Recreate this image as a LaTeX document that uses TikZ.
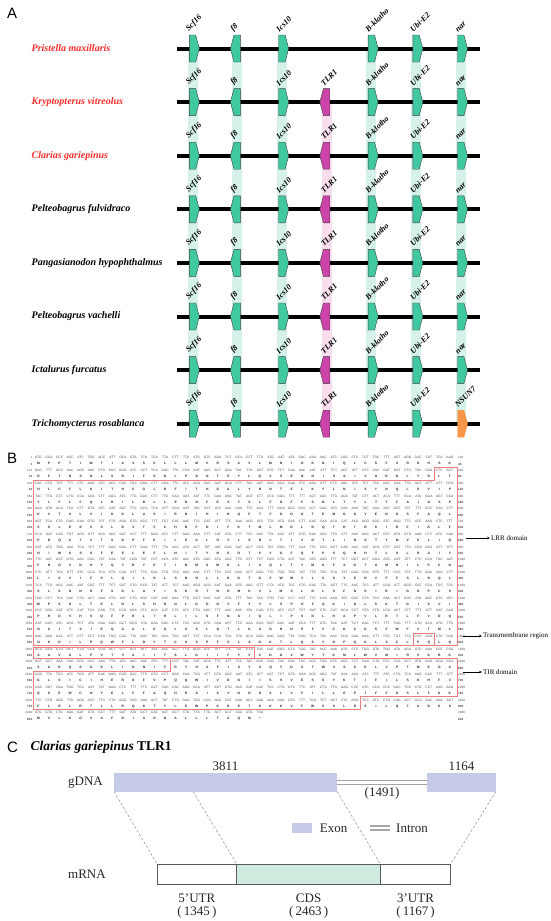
\documentclass[tikz,border=0pt]{standalone}
\usepackage{fontspec}
\setmainfont{Liberation Serif}
\setsansfont{Liberation Sans}
\usetikzlibrary{shapes.symbols, arrows.meta, positioning}

\definecolor{genegreen}{RGB}{64,201,160}
\definecolor{genepink}{RGB}{204,68,170}
\definecolor{geneorange}{RGB}{247,150,72}
\definecolor{shadegreen}{RGB}{214,240,234}
\definecolor{shadepink}{RGB}{250,221,237}
\definecolor{sprred}{RGB}{250,45,45}
\definecolor{boxred}{RGB}{238,125,125}
\definecolor{exonblue}{RGB}{197,202,233}
\definecolor{cdsgreen}{RGB}{205,236,222}
\definecolor{introngray}{RGB}{165,165,165}

% one codon (or residue) per fixed cell
\newcommand{\cdn}[1]{\makebox[10.55pt][c]{#1}}
\def\seqloop#1 #2\relax{\cdn{#1}\ifx\relax#2\relax\else\seqloop#2\relax\fi}
\newcommand{\seqtext}[1]{\seqloop#1 \relax}

\tikzset{
  panelletter/.style={font=\sffamily\fontsize{15}{15}\selectfont, anchor=west, inner sep=0pt},
  species/.style={font=\fontsize{10}{12}\selectfont\bfseries\itshape, anchor=west, inner sep=0pt},
  track/.style={line width=4pt, black},
  gene/.style={signal, signal pointer angle=150, draw=black!75, line width=0.4pt, fill=genegreen, minimum width=10pt, minimum height=27pt, inner sep=0pt},
  genelabel/.style={font=\fontsize{8}{9}\selectfont\bfseries\itshape, rotate=45, anchor=south west, inner sep=0.5pt},
  seqdna/.style={font=\sffamily\fontsize{3.3}{3.5}\selectfont, text=black!70, inner sep=0pt},
  seqaa/.style={font=\sffamily\bfseries\fontsize{3.3}{3.5}\selectfont, text=black!85, inner sep=0pt},
  seqnum/.style={font=\sffamily\fontsize{3.1}{3.5}\selectfont, text=black!70, inner sep=0pt},
  domainbox/.style={draw=boxred, line width=0.8pt},
  domlabel/.style={font=\fontsize{7}{8}\selectfont, anchor=west, inner sep=1pt},
  domarrow/.style={-{Stealth[length=3pt,width=2.5pt]}, line width=0.5pt},
  ctext/.style={font=\fontsize{13}{15}\selectfont, text=black!85, inner sep=1pt},
  exon/.style={fill=exonblue, inner sep=0pt, outer sep=0pt},
  intron/.style={draw=introngray, double=white, double distance=2.5pt, line width=1.4pt},
  utr/.style={draw=black!65, fill=white, line width=0.6pt, minimum height=20.5pt, inner sep=0pt, outer sep=0pt},
  cds/.style={utr, fill=cdsgreen},
  mapline/.style={draw=black!45, dash pattern=on 2.5pt off 2pt, line width=0.5pt},
}

% #1 row pair, #2 dna end, #3 aa end, #4 dna, #5 protein
\newcommand{\seqpair}[5]{%
  \pgfmathsetmacro{\yd}{457.7+12.75*#1}
  \pgfmathsetmacro{\ya}{\yd+6.375}
  \pgfmathtruncatemacro{\nd}{1+120*#1}
  \pgfmathtruncatemacro{\na}{1+40*#1}
  \node[seqnum, anchor=east] (dn#1) at (32.5,\yd) {\nd};
  \node[seqdna, anchor=west] (d#1) at (33,\yd) {\seqtext{#4}};
  \node[seqnum, anchor=west] (de#1) at (458,\yd) {#2};
  \node[seqnum, anchor=east] (an#1) at (32.5,\ya) {\textbf{\na}};
  \node[seqaa, anchor=west] (a#1) at (33,\ya) {\seqtext{#5}};
  \node[seqnum, anchor=west] (ae#1) at (458,\ya) {\textbf{#3}};
}

\begin{document}
\begin{tikzpicture}[x=1pt, y=-1pt, node distance=4pt]
  \fill[white] (0,0) rectangle (550,921);
  \useasboundingbox (0,0) rectangle (550,921);

  \node[panelletter] (lblA) at (7,13) {A};
  \node[panelletter] (lblB) at (7,458) {B};
  \node[panelletter] (lblC) at (7,747) {C};

  % A: synteny
  \foreach \gx in {192.5,237.2,281.9,371.3,416,460.7}
    \fill[shadegreen] (\gx-5,48.5) rectangle (\gx+5,423.7);
  \fill[shadepink] (321.6,102.1) rectangle (331.6,423.7);

  \foreach \sp/\col [count=\i from 0] in {Pristella maxillaris/sprred, Kryptopterus vitreolus/sprred, Clarias gariepinus/sprred, Pelteobagrus fulvidraco/black, Pangasianodon hypophthalmus/black, Pelteobagrus vachelli/black, Ictalurus furcatus/black, Trichomycterus rosablanca/black} {
    \pgfmathsetmacro{\ry}{48.5+53.6*\i}
    \node[species, text=\col] (sp\i) at (31.5,\ry) {\sp};
    \draw[track] (177,\ry) -- (480,\ry);
    \foreach \gx/\gn/\gd [count=\j] in {192.5/Scf16/east, 237.2/f8/west, 281.9/Ics10/east, 371.3/B-klotho/east, 416/Ubi-E2/east} {
      \node[gene, signal to=\gd] (g\i-\j) at (\gx,\ry) {};
      \node[genelabel] (gl\i-\j) at (\gx-2.5,\ry-15) {\gn};
    }
  }
  \foreach \i in {1,...,7} {
    \pgfmathsetmacro{\ry}{48.5+53.6*\i}
    \node[gene, signal to=west, fill=genepink] (tlr\i) at (326.6,\ry) {};
    \node[genelabel] (tlrl\i) at (324.1,\ry-15) {TLR1};
  }
  \foreach \i in {0,...,6} {
    \pgfmathsetmacro{\ry}{48.5+53.6*\i}
    \node[gene, signal to=east] (nar\i) at (460.7,\ry) {};
    \node[genelabel] (narl\i) at (458.2,\ry-15) {nar};
  }
  \node[gene, signal to=east, fill=geneorange, draw=geneorange] (nsun) at (460.7,423.7) {};
  \node[genelabel] (nsunl) at (458.2,408.7) {NSUN7};

  % B: sequence
  \seqpair{0}{120}{40}{ATG GCA CCC ACC ATC TGG ACC ATT GCA GTA TCA TCA TTA CTT TTA ATG GTC AGA TCT GCA GTT TTG ATG AAT ATA GAC AAA AAC ATC CAG CTC TGT TGC TTT AGT AGG GAC CAT TCA AAG}{M P P T I W T I A V S S L L L M V R S A V L M N I D K N I Q L C S F S R D H S K}
  \seqpair{1}{240}{80}{GAC TTT ACC AAC AGC AAC CTG AGC AGG ATC CCT TCA GAC TTA CCA GAT AAC ACT GAA TAC TTA GAT GTC TCT GAA AAC AAT ATT TCT AGT ATT GTC CAC GAT GAT CTG TAC CGA CTC ACT}{D F T N S N L S R I F S D L P D N T E Y L Q V S E N N I S S I V H D D L Y R L T}
  \seqpair{2}{360}{120}{CAC CTG TGT TTT CTC AAG ATC ACC CAC TGC GGA CTT CGA TTC ATC ACA CAC GAT GCA CTT TAC AAT AAC ACA GAA CTC AAA GTT CTC AAC ATC TCT TAC AAC CAA TTG AGT GTT ATT CCG}{H L C F L K I T H C G L R F I T H D A L Y N N T E L K Y L N I S Y N Q L S V I P}
  \seqpair{3}{480}{160}{TAC TTG CCT CTG CCA CAA CTT AGG ATC TTG GAC CTT TTA GAA AAT AAT TTC GAA AGC TAT AGT CTT CCA GGG TTT TTT AGT AAC TTG ACA TAT CTT ACT ACA TTT GCA ATA GGA AGT CCA}{Y L F L F Q L R I L D L L E N N F E S Y S L F G F F S N L T Y L T T F A I G S P}
  \seqpair{4}{600}{200}{AAA GTA ACA TCA CTT GTA ATC GAT GAT TTG GCA TCA ATT CGA AAT ATA CAT ATA AAC CAA TTC ACA TTT GGA GGC GGC ACT GAG ATG CAA AAG TAC GAA AAC GGT TCT TTT GCC CAA CTT}{K V T S L V I D D L A S I R N I H I N Q F T F G G G T E M G K Y E N G S F A Q L}
  \seqpair{5}{720}{240}{AGT TCA CTG GAG GAA GTG TCT CTG AGA GTG ACC TTT TGT CAC AAC TTC GAT ATT TTC AAA ACG ATG TTA ATG GAC CTT GAC CAA ACA CAT ACA AGG AGG ATC AGG TTC ATC AAG CTC TTT}{S S L E E V S L R V T F C H N F D I F K T M L M D L D Q T H T R K I R F I K L F}
  \seqpair{6}{840}{280}{CCA GAT CAG TGT ACG GTT ACA AGC GAT CCT TTT GAG ATC CTT GAG AAA CTT CAT GTA CTT TCC AAC TTA ACC ATT GTG GAC ACG TTG ATT AAC AGC ACT GTC ATG GTG AAG CTC ATC CAA}{P D Q C T V T S D P F E I L E K L H V L S N L T I V D T L I N S T Y M V K L I Q}
  \seqpair{7}{960}{320}{AAT ATC TGG AAA TCA TCT TTT GAG GAA CTT GAA TTT TTA AAC ATA ACT TAT AAT GAG GAT ACT CCA TAT GGG TTT CAA TTC CCC AGT CAG AAC CAT ACG CTC AGT TTA CGA GCA ATT GTT}{N I W K S S F E E L E F L N I T Y N E D T P Y G F Q F P S Q N H T L S L R A I Y}
  \seqpair{8}{1080}{360}{TTC AAT GGT GTG AAC CAC TAT CAA TAT CGG TAT CCT ACA ATC AAC ATG AGC ATG GAC TTG ATT TCT CAG CTG ACT TAC ATG AAG TTT TCT GGT ACT GGA ATG AAT ATT CTC CCA TGC AAT}{F N G V N H Y Q Y R Y P T I N M S M D L I S Q L T Y M K F S G T G M N I L P C N}
  \seqpair{9}{1200}{400}{CTC ATT TCA GTT ATC CCA TCA CTG CAA ATT TTG GAC CTG TCG AAC AAC CTT TTG GAT GAC ACT GGA TTC TGG TGG TAT TTG TGC TCG TAT GAG CGC GTC TTT CCC TCT TTG AGA CAG CTT}{L I S V I F S L Q I L D L S N N L L D D T G F W W Y L C S Y E R V F F S L R Q L}
  \seqpair{10}{1320}{440}{TCA TTG AGC AAC AAT CGC TTT TCT GAT CTG GCG TAT ATT TCT AAG AGG ACG AAT GAA ATG AAG GTT CTA ATG TCC CTG GAC TTA AGT TTC AAC TCC ATT CGG ATT GGG GAT CCA TGC TCC}{S L S N N R F S D L A Y I S K R T N E M K V L M S L D L S F N S I R I G D P C S}
  \seqpair{11}{1440}{480}{TGG CCT TCA CAC CTA ACT GAA CTG AAT CTG AGC CAT AAC AAC TTG GGT GAC AAT GTA TTT TAC TAC CTG TCC CCT CAT TTC CAA AAG ATC GAC CTA TCC AAA ACT GGC ATA AGC GTC ATC}{W P S H L T E L N L S H N N L G D N V F Y Y L S P H F Q K I D L S K T G I S V I}
  \seqpair{12}{1560}{520}{CCC CGG GAT GTC CAT TCA CAG TTC CCG AGA CTC ACA CAT CTC ATC CTG AGC TTT AAC AGC ATA CAG CTC ATC CCT TCT GAT CTC CAT GCA CCT GTA CTG CGG ACT CTT TTT GTT GAT CAG}{P R D V H S Q F P R L T H L I L S F N S I Q L I P S D L H A P V L R T L F V D Q}
  \seqpair{13}{1680}{560}{AAT GCC ATC ACG TCT ATA GAA CAG GCT GCG CTA GAG GGC CTC TCC AGC CTG CAG ACT TTA AAA GCA GGT AAC AAT CCA TTT GTC TGC GAT TGT GAC TCT TTT TGG TTT GTG ACA ATG TTG}{N A I T S I E Q A A L E G L S S L Q T L K A G N N P F V C D C G S F W F V T M L}
  \seqpair{14}{1800}{600}{AAC AAG GAC ATT CTT CCT CAG TGG CCA TTA GAC TAC ACA TGC AGT TCT CCA CCA TCA CTA GCA GGA AAG ACG TTA CAG TCA TAC AAC CCG CAA AAA CTT TCC TGT TTA CCC CAG CTA CAG}{N K D I L P Q W F L D Y T C S S P F S L A G K T L Q S Y N P Q K L S C L P Q L Q}
  \seqpair{15}{1920}{640}{GCA GCA GTG GCT CTA CCA GTA ACT GTT GCT ATT ATA ACC GCT TTG GGG ATC ATT TTC TAT GTA TGC GAT GGC GTC TGG TAC ACC AAA ATG CTC TGG GTA TGG ATA AGA GTC AAA CGT CGG}{A A V A L P V T V A I I T A L G I I F Y V C D G V W Y T K M L W V M I R V K R K}
  \seqpair{16}{2040}{680}{AGT GCT AAA CAG GCC GGT AAA TTG ATA AAC AAC ATC TTT CGT TAC CAT GCA TTC ATT TCC TAC AGC CAG TAC GAC TGC ACC TGG GTC AGC TCT GAA CTA GTC CCA ACT ATG GAG GGA GCA}{S A K Q A G K L I N N I F R Y H A F I S Y S Q Y D C T W V S S E L V P T M E G A}
  \seqpair{17}{2160}{720}{GGC TTA TCC ATC TGC ATT GAC GAG CGG GAC TTC GTC CCT GGC CAA TGG ATT GTG GAC AAT ATC ATT AGT TCT GTG GAA AGC AGC TAT AAA ACA ATC TTT ATC CTG TCA AAG CAC TTT GTT}{G L S I C I H E R D F V P Q Q W I V D N I I S S V E S S Y K T I F I L S K H F V}
  \seqpair{18}{2280}{760}{CAA AGT GAA TGG TGC AAT TAT GAG CTC TTT TTC GCT CAG CAC AGA GCA ATT AGT GTG AAC GAT GAC TCC CTG GTC TTC ATT CTG TTG GAG CCC ATC CCA CCC GAC TCG CTG CCT AAG AAG}{Q S E W C N Y E L F F A Q H R A I S V N D D S L V F I L L E P I F F D S L F K K}
  \seqpair{19}{2400}{800}{TTC CTG AGG TTA AGA ACC TTG CTA AGG CAG AAA ACT TAT CTG GAG TGG CCG AAA GAT GAA ACC AAG AAA AAG GTG TTT TGG TCT AGT CTC AGG TCC ATC CTG CAG ACT GCA GAC AAA AGT}{F L R L R T L L R Q K T Y L E W P K D E T K K K V F W S S L R S I L Q T A D K S}
  \seqpair{20}{2466}{822}{ATG GTG CTG AAA GAT GTA GCT TTT GAT ATA GCT GAC AAT GCT CTA TTA TTG ACT GCT CAA ATG TGA}{M V L K G V A F D I A D N A L L L T A Q M *}

  % domain outlines
  \draw[domainbox] (433.9,467.25) -- (457,467.25) -- (457,645.75) -- (33.3,645.75) -- (33.3,480) -- (433.9,480) -- cycle;
  \draw[domainbox] (413,633.5) rectangle (434,645.2);
  \draw[domainbox] (33.3,647.5) rectangle (254.6,658.5);
  \draw[domainbox] (170.2,658.5) -- (457,658.5) -- (457,696.75) -- (360,696.75) -- (360,709.5) -- (33.3,709.5) -- (33.3,671.25) -- (170.2,671.25) -- cycle;

  \coordinate (lrrtail) at (466,538);
  \node[domlabel] (lrr) at (490,538) {LRR domain};
  \draw[domarrow] (lrrtail) -- (lrr);
  \coordinate (tmtail) at (463,636);
  \node[domlabel] (tm) at (482,636) {Transmembrane region};
  \draw[domarrow] (tmtail) -- (tm);
  \coordinate (tirtail) at (463,672);
  \node[domlabel] (tir) at (482,672) {TIR domain};
  \draw[domarrow] (tirtail) -- (tir);

  % C: gene structure
  \node[font=\fontsize{13.5}{15}\selectfont, anchor=west, inner sep=0pt] (ctitle) at (30.5,747) {\textbf{\textit{Clarias gariepinus}} \textbf{TLR1}};
  \node[exon, minimum width=223pt, minimum height=18.5pt, anchor=north west] (exon1) at (114,773) {};
  \node[exon, minimum width=69pt, minimum height=18.5pt, anchor=north west] (exon2) at (427,773) {};
  \draw[intron] (exon1.east) -- (exon2.west);
  \path (exon1.east) -- (exon2.west) coordinate[midway] (intmid);
  \node[ctext, above=1pt of exon1] (len1) {3811};
  \node[ctext, above=1pt of exon2] (len2) {1164};
  \node[ctext, below=4pt of intmid] (intlen) {(1491)};
  \node[ctext, left=10pt of exon1] (gdna) {gDNA};

  \node[exon, minimum width=20pt, minimum height=10pt, anchor=west] (legexon) at (291.7,828) {};
  \node[ctext, right=7pt of legexon] (legexonl) {Exon};
  \coordinate (legintA) at (370,828);
  \coordinate (legintB) at (390,828);
  \draw[intron] (legintA) -- (legintB);
  \node[ctext, anchor=west] (legintl) at (395,828) {Intron};

  \node[utr, minimum width=79.7pt, anchor=north west] (utr5) at (157,864) {};
  \node[cds, minimum width=143.8pt, right=0pt of utr5] (cds) {};
  \node[utr, minimum width=70.1pt, right=0pt of cds] (utr3) {};
  \node[ctext, anchor=west] (mrna) at (gdna.west |- utr5.west) {mRNA};
  \node[ctext, below=8pt of utr5] (utr5l) {5'UTR};
  \node[ctext, below=2pt of utr5l] (utr5n) {(\,1345\,)};
  \node[ctext, below=8pt of cds] (cdsl) {CDS};
  \node[ctext, below=2pt of cdsl] (cdsn) {(\,2463\,)};
  \node[ctext, below=8pt of utr3] (utr3l) {3'UTR};
  \node[ctext, below=2pt of utr3l] (utr3n) {(\,1167\,)};

  \coordinate (cdsstart) at (193,791.5);
  \draw[mapline] (exon1.south west) -- (utr5.north west);
  \draw[mapline] (cdsstart) -- (cds.north west);
  \draw[mapline] (exon1.south east) -- (cds.north east);
  \draw[mapline] (exon2.south east) -- (utr3.north east);
\end{tikzpicture}
\end{document}
